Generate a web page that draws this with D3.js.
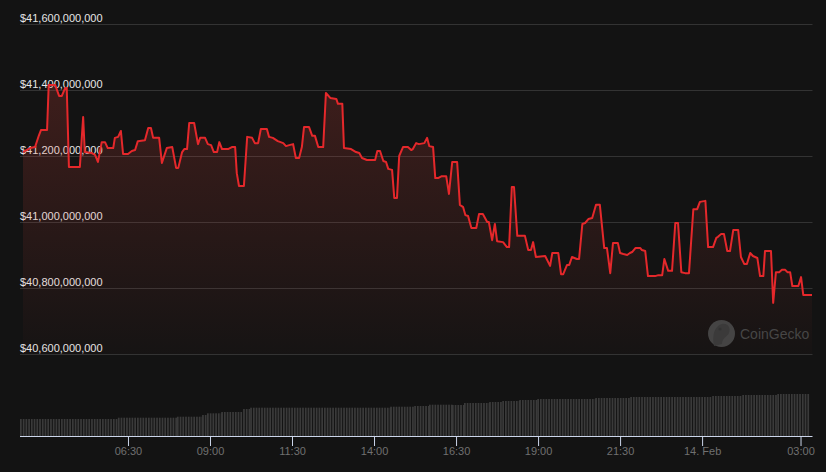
<!DOCTYPE html>
<html>
<head>
<meta charset="utf-8">
<script src="https://cdn.jsdelivr.net/npm/d3@7"></script>
<style>
  html, body { margin: 0; padding: 0; background: #131313; }
  svg { display: block; }
</style>
</head>
<body>
<svg id="chart" width="826" height="472"></svg>
<script>
// ---- DATA ----
// minutes since 13 Feb 00:00 (values > 1440 are 14 Feb)
const priceMinutes = [198,211,220,227,231,242,245,257,264,269,275,278,282,302,308,311,324,330,335,342,348,353,363,366,372,377,381,390,397,403,408,421,427,432,436,447,452,461,471,478,482,489,493,498,502,511,518,522,531,536,542,547,553,557,562,573,580,586,589,593,602,608,617,622,628,633,644,648,655,664,674,679,685,692,697,703,708,712,721,727,732,738,747,752,760,771,774,782,785,798,807,813,818,827,842,846,851,857,862,866,873,877,882,886,893,902,908,911,917,922,932,937,941,948,952,957,964,972,977,983,992,997,1003,1007,1012,1018,1027,1032,1039,1047,1050,1056,1061,1065,1076,1083,1087,1092,1096,1102,1116,1122,1127,1131,1136,1153,1162,1166,1177,1182,1186,1193,1197,1202,1211,1215,1221,1226,1232,1239,1246,1253,1261,1266,1272,1277,1286,1290,1296,1303,1308,1312,1318,1327,1330,1336,1341,1354,1360,1367,1371,1378,1385,1391,1396,1402,1409,1416,1424,1431,1436,1446,1451,1460,1466,1469,1475,1480,1486,1491,1497,1506,1511,1517,1522,1528,1533,1541,1546,1552,1555,1566,1570,1575,1581,1586,1592,1596,1601,1605,1616,1621,1625,1641];
// market cap in millions of USD
const marketCapM = [41212,41224,41227,41262,41279,41279,41415,41415,41382,41382,41406,41406,41167,41167,41318,41212,41209,41203,41182,41242,41242,41224,41224,41255,41258,41276,41206,41206,41215,41218,41245,41248,41285,41285,41255,41255,41179,41224,41227,41164,41164,41212,41221,41221,41300,41300,41236,41255,41255,41236,41233,41212,41212,41242,41221,41221,41227,41227,41148,41109,41109,41258,41255,41239,41239,41282,41282,41258,41255,41245,41239,41230,41233,41236,41194,41194,41227,41288,41288,41261,41261,41227,41227,41391,41376,41373,41358,41358,41224,41221,41212,41209,41194,41188,41188,41215,41215,41185,41182,41161,41158,41073,41073,41200,41227,41227,41218,41221,41239,41236,41239,41255,41230,41227,41133,41133,41139,41139,41085,41182,41182,41052,41045,41021,41018,40982,40982,41024,41024,41000,41000,40945,40994,40942,40939,40924,40924,41106,41106,40958,40958,40915,40915,40939,40894,40897,40867,40906,40906,40842,40842,40870,40870,40894,40888,40888,40994,40997,41009,41012,41052,41052,40921,40921,40845,40936,40936,40906,40903,40900,40906,40909,40921,40921,40915,40912,40836,40836,40839,40839,40888,40852,40852,40997,40997,40848,40845,40845,41039,41039,41061,41064,40924,40924,40952,40955,40964,40964,40912,40912,40976,40976,40894,40873,40873,40906,40897,40891,40836,40836,40912,40912,40755,40848,40848,40855,40855,40848,40848,40806,40806,40833,40779,40779];

// volume (millions of USD) as step levels: level starts at given minute
const volumeStepMinutes = [198,377,485,531,540,566,606,619,875,919,946,988,1010,1056,1080,1111,1144,1250,1314,1464,1519,1583];
const volumeStepLevels  = [1700,1830,1930,2100,2270,2400,2700,2830,2930,3000,3130,3100,3300,3400,3500,3600,3700,3800,3900,4000,4100,4200];
const volumeIntervalMin = 5;

const yTicks = [40600,40800,41000,41200,41400,41600];
const xTickMinutes = [390,540,690,840,990,1140,1290,1440,1620];
const xTickLabels = ["06:30","09:00","11:30","14:00","16:30","19:00","21:30","14. Feb","03:00"];

// ---- CHART ----
const svg = d3.select("#chart");
const W = 826, H = 472;
const plotLeft = 20, plotRight = 812.5;
const priceTop = 24, priceBottom = 354;
const volBottom = 436, volTop = 394;

const toDate = m => new Date(Date.UTC(2024, 1, 13, 0, m));
const x = d3.scaleTime()
  .domain([toDate(198), toDate(1641)])
  .range([23, 812]);
const y = d3.scaleLinear().domain([40600, 41600]).range([priceBottom, priceTop]);
const yv = d3.scaleLinear().domain([0, 4200]).range([volBottom, volTop]);

svg.append("rect").attr("width", W).attr("height", H).attr("fill", "#131313");

// gradient
const defs = svg.append("defs");
const grad = defs.append("linearGradient").attr("id", "areaGrad")
  .attr("gradientUnits", "userSpaceOnUse")
  .attr("x1", 0).attr("x2", 0).attr("y1", priceTop).attr("y2", priceBottom);
grad.append("stop").attr("offset", 0).attr("stop-color", "rgb(225,70,60)").attr("stop-opacity", 0.25);
grad.append("stop").attr("offset", 1).attr("stop-color", "rgb(225,70,60)").attr("stop-opacity", 0.015);

// gridlines + y labels
const yAxisG = svg.append("g");
yTicks.forEach(v => {
  yAxisG.append("line")
    .attr("x1", plotLeft).attr("x2", plotRight)
    .attr("y1", Math.round(y(v)) + 0.5).attr("y2", Math.round(y(v)) + 0.5)
    .attr("stroke", "#333333").attr("stroke-width", 1);
});

const data = priceMinutes.map((m, i) => ({ d: toDate(m), v: marketCapM[i] }));

const area = d3.area().x(p => x(p.d)).y0(priceBottom).y1(p => y(p.v));
svg.append("path").datum(data).attr("d", area).attr("fill", "url(#areaGrad)");

const line = d3.line().x(p => x(p.d)).y(p => y(p.v));
svg.append("path").datum(data).attr("d", line)
  .attr("fill", "none").attr("stroke", "#e5282b").attr("stroke-width", 2)
  .attr("stroke-linejoin", "round");

yTicks.forEach(v => {
  yAxisG.append("text")
    .attr("x", plotLeft).attr("y", y(v) - 2.5)
    .attr("fill", "#e6e6e6")
    .attr("font-family", "'Liberation Sans', Arial, sans-serif")
    .attr("font-size", 11)
    .text("$" + d3.format(",")(v * 1e6));
});

// volume bars
const bars = [];
for (let i = 0; i < volumeStepMinutes.length; i++) {
  const start = volumeStepMinutes[i];
  const end = i + 1 < volumeStepMinutes.length ? volumeStepMinutes[i + 1] : 1641;
  for (let m = start; m < end; m += volumeIntervalMin) bars.push({ d: toDate(m), v: volumeStepLevels[i] });
}
const barW = (x(toDate(volumeIntervalMin)) - x(toDate(0))) - 1;
svg.append("g").selectAll("rect").data(bars).join("rect")
  .attr("x", b => x(b.d) - 3)
  .attr("width", barW)
  .attr("y", b => yv(b.v))
  .attr("height", b => volBottom - yv(b.v))
  .attr("fill", "#3a3a3a");

// x axis
const xAxis = d3.axisBottom(x)
  .tickValues(xTickMinutes.map(toDate))
  .tickFormat((d, i) => xTickLabels[i])
  .tickSize(10).tickSizeOuter(0);
const xg = svg.append("g").attr("transform", `translate(0,${volBottom})`).call(xAxis);
xg.select(".domain").remove();
xg.append("line").attr("x1", plotLeft).attr("x2", plotRight).attr("y1", 0.5).attr("y2", 0.5)
  .attr("stroke", "#ccd6eb");
xg.selectAll(".tick line").attr("stroke", "#ccd6eb");
xg.selectAll(".tick text")
  .attr("fill", "#707070")
  .attr("font-family", "'Liberation Sans', Arial, sans-serif")
  .attr("font-size", 11)
  .attr("dy", 0).attr("y", 19);

// watermark
const wm = svg.append("g").attr("opacity", 0.9);
wm.append("circle").attr("cx", 721.5).attr("cy", 333.5).attr("r", 13.5).attr("fill", "#4a4a4a");
wm.append("path")
  .attr("d", "M714,346 C712,336 714,326 722,324 C728,323 731,328 729,333 C727,337 722,338 722,344 Z")
  .attr("fill", "#3f3f3f");
wm.append("circle").attr("cx", 720).attr("cy", 329).attr("r", 1.6).attr("fill", "#363636");
wm.append("text").attr("x", 740).attr("y", 338.5)
  .attr("fill", "#4c4c4c")
  .attr("font-family", "'Liberation Sans', Arial, sans-serif")
  .attr("font-size", 14)
  .text("CoinGecko");
</script>
</body>
</html>
